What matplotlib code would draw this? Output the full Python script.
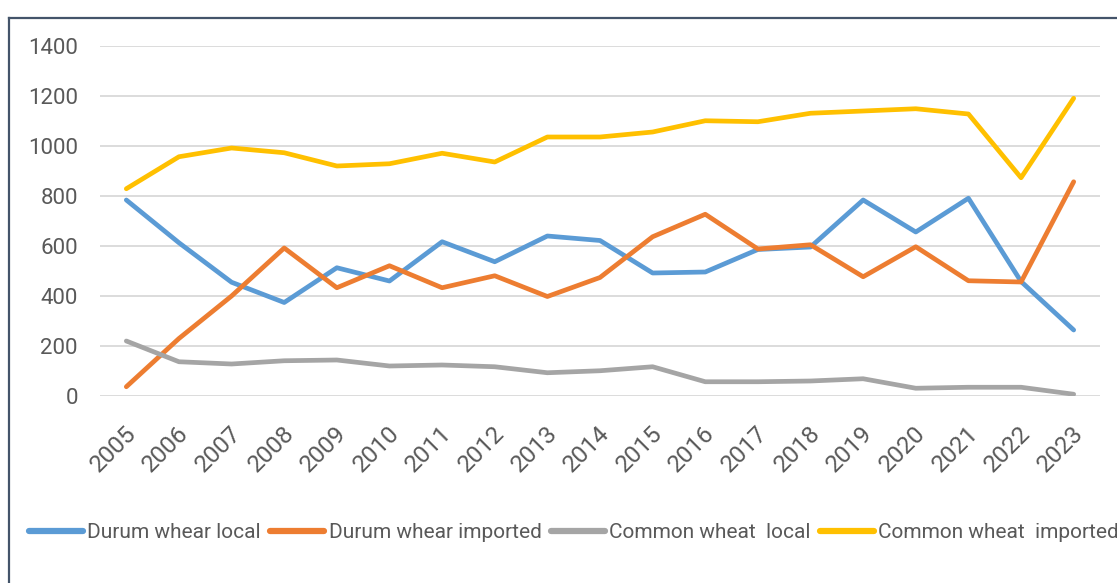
import matplotlib.pyplot as plt
import matplotlib.transforms as mtransforms
from matplotlib.lines import Line2D

# wheat volumes by year (thousand tonnes)
years = [str(y) for y in range(2005, 2024)]
durum_local = [784, 613, 455, 374, 513, 460, 617, 537, 640, 622, 492, 496, 586, 596,
               784, 656, 791, 458, 264]
durum_imported = [37, 230, 400, 592, 433, 521, 433, 481, 398, 474, 637, 727, 588, 605,
                  477, 597, 461, 456, 857]
common_local = [220, 137, 128, 141, 144, 120, 124, 117, 93, 101, 117, 57, 57, 60,
                69, 31, 35, 35, 7]
common_imported = [829, 957, 992, 973, 920, 929, 971, 936, 1036, 1036, 1056, 1101, 1097,
                   1131, 1140, 1149, 1128, 873, 1191]

series = [
    ("Durum whear local", durum_local, "#5B9BD5"),
    ("Durum whear imported", durum_imported, "#ED7D31"),
    ("Common wheat  local", common_local, "#A5A5A5"),
    ("Common wheat  imported", common_imported, "#FFC000"),
]

plt.rcParams['font.family'] = ['Roboto', 'DejaVu Sans']
text_color = "#595959"

W, H = 1117, 583
fig = plt.figure(figsize=(W / 100, H / 100), dpi=100)
ax = fig.add_axes([100 / W, (H - 396) / H, 1000 / W, 350 / H])

x = range(len(years))
for name, vals, col in series:
    ax.plot(x, vals, color=col, lw=3.4, label=name, solid_capstyle='round',
            solid_joinstyle='round')

ax.set_xlim(-0.5, len(years) - 0.5)
ax.set_ylim(0, 1400)
ax.set_yticks(range(0, 1401, 200))
ax.grid(axis='y', color='#D9D9D9', lw=1.3)
ax.set_axisbelow(True)
for s in ax.spines.values():
    s.set_visible(False)
ax.tick_params(length=0, colors=text_color)
ax.tick_params(axis='y', pad=16, labelsize=16)

ax.set_xticks(list(x))
ax.set_xticklabels(years, rotation=45, ha='right', va='top', rotation_mode='anchor',
                   fontsize=17.5)
shift = mtransforms.ScaledTranslation(-2 / 100, -21 / 100, fig.dpi_scale_trans)
for lbl in ax.get_xticklabels():
    lbl.set_transform(lbl.get_transform() + shift)

leg = fig.legend(loc='center', bbox_to_anchor=(574 / W, 1 - 533 / H), ncol=4,
                 frameon=False, fontsize=15, handlelength=2.6, handletextpad=0.2,
                 columnspacing=0.45, labelcolor=text_color)
for h in leg.get_lines():
    h.set_linewidth(4.5)
    h.set_solid_capstyle('round')

# outer frame, top and left edges only
frame_col = "#44546A"
fig.add_artist(Line2D([9 / W, 1.0], [1 - 18 / H, 1 - 18 / H], color=frame_col, lw=1.6,
                      transform=fig.transFigure))
fig.add_artist(Line2D([9 / W, 9 / W], [0.0, 1 - 18 / H], color=frame_col, lw=1.6,
                      transform=fig.transFigure))

fig.savefig("out.png", dpi=100)
